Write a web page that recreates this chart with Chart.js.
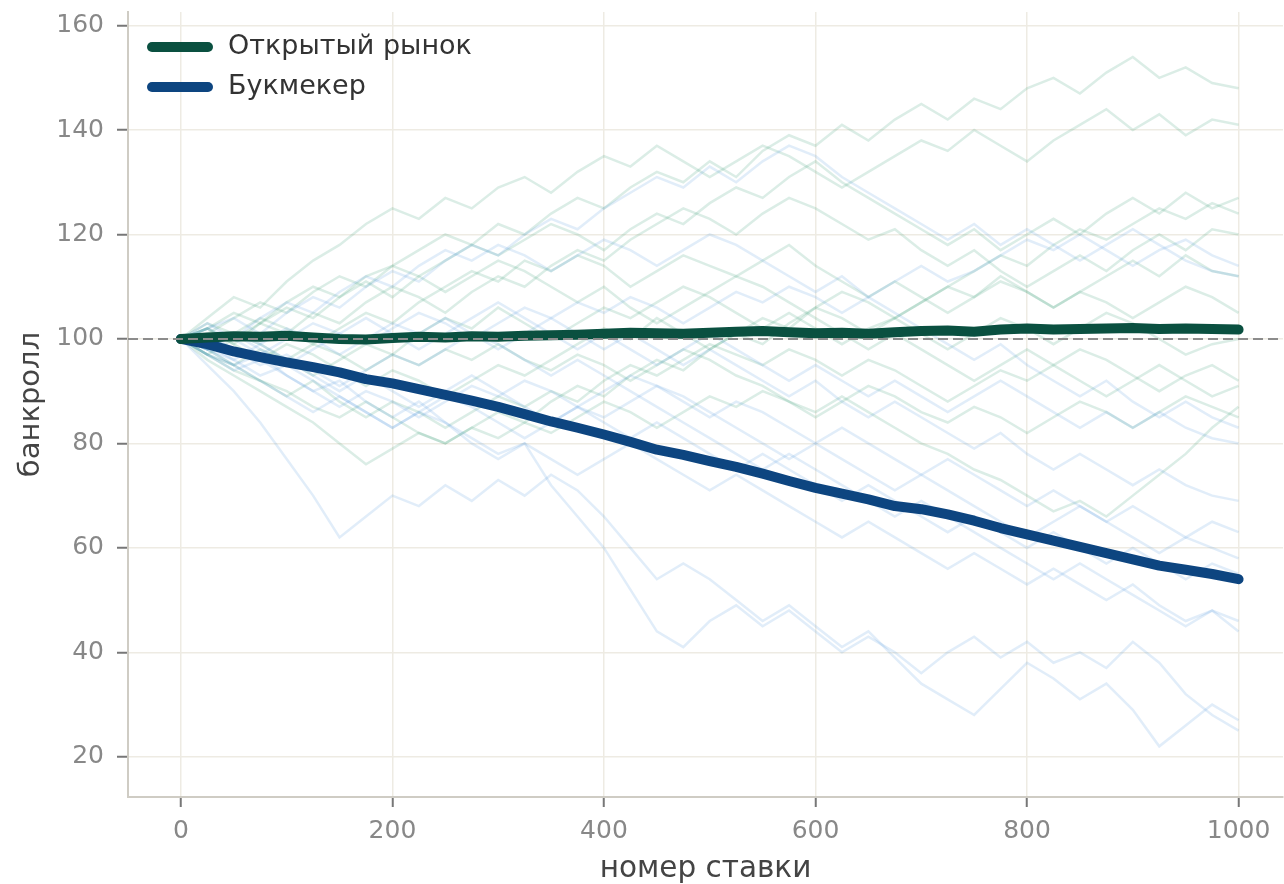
<!DOCTYPE html>
<html>
<head>
<meta charset="utf-8">
<script src="https://cdn.jsdelivr.net/npm/chart.js@4"></script>
<style>
  html, body { margin: 0; padding: 0; background: #fff; }
  #wrap { width: 1284px; height: 884px; }
</style>
</head>
<body>
<div id="wrap"><canvas id="myChart" width="1284" height="884"></canvas></div>
<script>
// номер ставки (каждые 25 ставок)
const steps = [0,25,50,75,100,125,150,175,200,225,250,275,300,325,350,375,400,425,450,475,500,
  525,550,575,600,625,650,675,700,725,750,775,800,825,850,875,900,925,950,975,1000];

// средние значения банкролла
const meanMarket = [100,100.3,100.5,100.4,100.6,100.3,100.0,99.9,100.2,100.4,100.3,100.5,100.4,100.6,100.7,100.8,101,101.2,101.1,101,101.2,
  101.4,101.5,101.3,101.1,101.2,101,101.3,101.5,101.6,101.4,101.8,102,101.8,101.9,102,102.1,101.9,102,101.9,101.8];
const meanBookie = [100,99,97.6,96.5,95.5,94.6,93.6,92.3,91.5,90.4,89.3,88.2,87,85.6,84.2,83,81.7,80.3,78.8,77.8,76.6,
  75.5,74.2,72.8,71.5,70.4,69.3,68,67.4,66.4,65.2,63.8,62.6,61.4,60.2,59,57.8,56.6,55.8,55,54];

// отдельные симуляции — открытый рынок
const marketRuns = [
  [100,102,105,103,107,110,108,112,114,117,120,118,122,120,124,127,125,129,132,130,134,131,136,139,137,141,138,142,145,142,146,144,148,150,147,151,154,150,152,149,148],
  [100,104,108,106,111,115,118,122,125,123,127,125,129,131,128,132,135,133,137,134,131,134,137,135,132,129,132,135,138,136,140,137,134,138,141,144,140,143,139,142,141],
  [100,102,99,103,106,104,108,111,108,112,115,118,116,119,122,120,117,121,124,122,126,129,127,131,134,130,127,124,121,118,121,117,120,123,120,124,127,124,128,125,127],
  [100,97,100,103,101,105,103,107,110,108,105,109,112,110,114,117,115,119,122,125,123,120,124,127,125,122,119,121,117,114,117,113,110,113,116,113,117,120,117,121,120],
  [100,103,101,104,102,99,102,105,103,107,110,113,111,115,113,116,114,110,113,116,114,112,115,118,114,111,108,111,108,105,108,111,109,106,109,112,115,112,116,113,112],
  [100,98,95,98,96,93,96,99,97,101,104,102,106,103,100,103,106,104,107,110,108,105,102,105,102,99,102,104,101,98,101,104,102,99,102,105,103,100,97,99,100],
  [100,97,94,92,89,92,88,85,88,86,83,86,89,87,90,88,92,95,93,96,99,97,95,98,96,93,96,94,91,88,91,94,92,95,98,96,93,90,93,95,92],
  [100,98,101,99,96,99,97,94,97,95,98,96,99,96,94,97,95,92,95,98,96,93,91,88,86,89,86,83,80,78,75,73,70,67,69,66,70,74,78,83,87],
  [100,97,95,92,90,87,85,88,85,82,80,83,81,84,82,85,88,86,83,86,89,87,90,88,85,88,91,89,86,84,87,85,82,85,88,86,83,86,89,87,85],
  [100,102,99,96,99,97,94,91,94,92,89,92,95,93,96,99,102,100,104,101,98,101,104,102,106,109,107,104,107,110,108,112,109,106,109,107,104,107,110,108,105],
  [100,96,93,90,87,84,80,76,79,82,80,83,86,84,88,91,89,93,96,94,98,101,99,103,106,104,101,104,107,110,113,116,114,118,121,119,122,125,123,126,124],
  [100,101,104,107,105,109,112,110,114,112,109,112,115,113,110,107,110,106,103,106,109,112,110,107,104,101,98,101,98,95,92,95,98,95,92,89,92,95,92,89,91]
];

// отдельные симуляции — букмекер
const bookieRuns = [
  [100,102,104,101,105,108,106,110,113,111,115,118,116,120,123,121,125,128,131,129,133,130,134,137,135,131,128,125,122,119,122,118,121,118,115,118,121,118,115,113,112],
  [100,103,100,104,107,105,109,112,110,114,117,115,118,116,113,116,119,117,114,117,120,118,115,112,109,112,108,105,102,99,96,99,95,92,89,92,88,85,88,85,83],
  [100,98,101,98,95,98,101,99,102,105,103,100,103,106,104,101,98,101,98,95,98,95,92,89,92,88,85,88,85,82,79,82,78,75,78,75,72,75,72,70,69],
  [100,97,94,96,93,90,87,90,88,85,88,91,89,92,90,87,90,93,91,88,85,88,86,83,80,83,80,77,74,77,74,71,68,71,68,65,68,65,62,65,63],
  [100,97,95,92,89,86,89,86,83,86,84,81,78,80,77,74,77,80,77,74,71,74,71,68,65,62,65,62,59,56,59,56,53,56,53,50,53,49,46,48,46],
  [100,95,90,84,77,70,62,66,70,68,72,69,73,70,74,71,66,60,54,57,54,50,46,49,45,41,44,39,34,31,28,33,38,35,31,34,29,22,26,30,27],
  [100,98,95,97,93,90,92,88,85,88,84,80,77,80,72,66,60,52,44,41,46,49,45,48,44,40,43,40,36,40,43,39,42,38,40,37,42,38,32,28,25],
  [100,98,96,99,96,93,90,93,90,87,90,93,90,87,84,87,84,81,84,81,78,75,78,75,72,69,72,69,66,63,66,63,60,63,60,57,60,57,54,57,55],
  [100,102,100,97,100,103,101,104,101,98,101,104,107,104,101,98,101,98,95,98,101,98,95,92,95,92,89,92,89,86,89,92,89,86,83,86,83,86,83,81,80],
  [100,98,101,99,102,100,97,100,103,101,104,101,98,101,104,107,105,108,106,103,106,109,107,110,108,105,108,111,114,111,113,116,119,117,120,117,114,117,119,116,114],
  [100,99,96,93,95,92,89,86,83,86,89,87,84,81,84,87,85,88,91,89,86,83,80,77,80,77,74,71,74,71,68,65,62,65,68,65,62,59,62,60,58],
  [100,101,98,95,97,94,91,94,97,95,98,101,99,96,93,96,93,90,87,84,81,78,75,78,75,72,69,66,69,66,63,60,57,54,57,54,51,48,45,48,44]
];

const startBank = 100;
const xTicks = [0, 200, 400, 600, 800, 1000];
const yTicks = [20, 40, 60, 80, 100, 120, 140, 160];
const xMin = -50, xMax = 1042;
const yMin = 12.3, yMax = 162.6;

const marketColor = '#0a5040';
const bookieColor = '#0d4580';

const toPoints = arr => arr.map((v, i) => ({ x: steps[i], y: v }));

const datasets = [];
datasets.push({
  label: 'start',
  data: [{ x: xMin, y: startBank }, { x: xMax, y: startBank }],
  borderColor: '#8c8c8c', borderWidth: 2, borderDash: [10, 5],
  pointRadius: 0, order: 0
});
datasets.push({
  label: 'Открытый рынок',
  data: toPoints(meanMarket),
  borderColor: marketColor, borderWidth: 10,
  borderCapStyle: 'round', borderJoinStyle: 'round', pointRadius: 0, order: 1
});
datasets.push({
  label: 'Букмекер',
  data: toPoints(meanBookie),
  borderColor: bookieColor, borderWidth: 10,
  borderCapStyle: 'round', borderJoinStyle: 'round', pointRadius: 0, order: 2
});
marketRuns.forEach(run => datasets.push({
  label: '', data: toPoints(run),
  borderColor: 'rgba(40,150,105,0.17)', borderWidth: 2.5, pointRadius: 0, order: 5
}));
bookieRuns.forEach(run => datasets.push({
  label: '', data: toPoints(run),
  borderColor: 'rgba(70,140,220,0.16)', borderWidth: 2.5, pointRadius: 0, order: 4
}));

// легенда внутри области графика, как в matplotlib
const legendItems = [
  { text: 'Открытый рынок', color: marketColor },
  { text: 'Букмекер', color: bookieColor }
];
const innerLegend = {
  id: 'innerLegend',
  afterDraw(chart) {
    const c = chart.ctx;
    const area = chart.chartArea;
    c.save();
    c.font = '27px "DejaVu Sans"';
    c.textBaseline = 'middle';
    legendItems.forEach((item, i) => {
      const y = area.top + 35 + i * 40;
      const x0 = area.left + 24;
      c.strokeStyle = item.color;
      c.lineWidth = 10;
      c.lineCap = 'round';
      c.beginPath();
      c.moveTo(x0, y);
      c.lineTo(x0 + 56, y);
      c.stroke();
      c.fillStyle = '#333';
      c.fillText(item.text, x0 + 76, y);
    });
    c.restore();
  }
};

const tickFont = { family: 'DejaVu Sans', size: 25 };
const gridColor = '#eeebe3';

const ctx = document.getElementById('myChart');
const chart = new Chart(ctx, {
  type: 'line',
  data: { datasets: datasets },
  plugins: [innerLegend],
  options: {
    responsive: false,
    animation: false,
    devicePixelRatio: 1,
    layout: { padding: { top: 12, right: 1, left: 0, bottom: 0 } },
    plugins: {
      tooltip: { enabled: false },
      legend: { display: false }
    },
    scales: {
      x: {
        type: 'linear',
        min: xMin, max: xMax,
        afterBuildTicks: s => { s.ticks = xTicks.map(v => ({ value: v })); },
        afterFit: s => { s.height = 87; s.paddingLeft = 0; s.paddingRight = 0; },
        ticks: { font: tickFont, color: '#888', padding: 9, maxRotation: 0, callback: v => String(v) },
        grid: { color: gridColor, lineWidth: 1.5, tickColor: '#777', tickLength: 10, tickWidth: 2 },
        border: { color: '#cfccc4', width: 2 },
        title: {
          display: true, text: 'номер ставки', color: '#444',
          font: { family: 'DejaVu Sans', size: 29.5, lineHeight: 1 },
          padding: { top: 0, bottom: 0 }
        }
      },
      y: {
        min: yMin, max: yMax,
        afterBuildTicks: s => { s.ticks = yTicks.map(v => ({ value: v })); },
        afterFit: s => { s.width = 128; s.paddingTop = 0; s.paddingBottom = 0; },
        ticks: { font: tickFont, color: '#888', padding: 13, callback: v => String(v) },
        grid: { color: gridColor, lineWidth: 1.5, tickColor: '#777', tickLength: 11, tickWidth: 2 },
        border: { color: '#cfccc4', width: 2 },
        title: {
          display: true, text: 'банкролл', color: '#444',
          font: { family: 'DejaVu Sans', size: 29, lineHeight: 1 },
          padding: { top: 17, bottom: 0 }
        }
      }
    }
  }
});
</script>
</body>
</html>
